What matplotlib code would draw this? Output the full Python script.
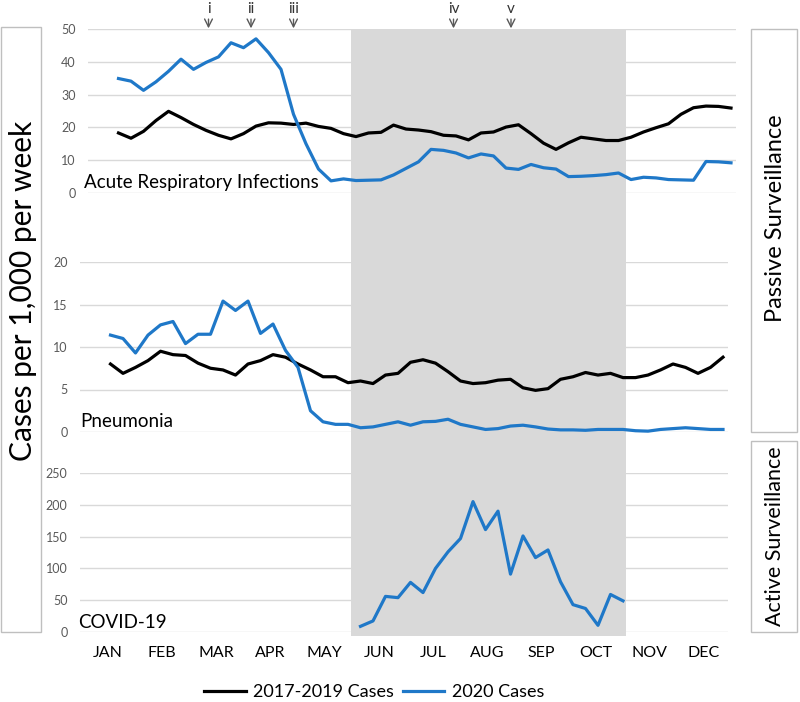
import numpy as np
import matplotlib
matplotlib.use('Agg')
import matplotlib.pyplot as plt
from matplotlib.patches import Rectangle
from matplotlib.lines import Line2D
from matplotlib.transforms import blended_transform_factory

plt.rcParams['font.family'] = ['Lato', 'DejaVu Sans']

# weekly values (week index 0..49)
weeks = np.arange(50)
ari_hist = [18.3, 16.7, 18.8, 22.1, 24.9, 23.0, 20.9, 19.1, 17.6, 16.5,
            18.1, 20.4, 21.4, 21.3, 20.9, 21.3, 20.3, 19.7, 18.1, 17.2,
            18.3, 18.5, 20.7, 19.5, 19.2, 18.7, 17.6, 17.4, 16.2, 18.3,
            18.6, 20.1, 20.8, 18.1, 15.2, 13.3, 15.3, 17.0, 16.5, 16.0,
            16.0, 17.0, 18.6, 19.9, 21.1, 24.0, 26.0, 26.5, 26.4, 25.9]
ari_2020 = [34.9, 34.1, 31.3, 33.9, 37.1, 40.8, 37.7, 39.8, 41.5, 45.8,
            44.3, 47.0, 42.8, 37.7, 24.0, 15.0, 7.3, 3.7, 4.3, 3.8,
            3.9, 4.0, 5.5, 7.5, 9.5, 13.3, 13.0, 12.2, 10.7, 11.9,
            11.3, 7.6, 7.2, 8.7, 7.7, 7.3, 5.0, 5.1, 5.3, 5.6,
            6.1, 4.1, 4.8, 4.6, 4.1, 4.0, 3.9, 9.6, 9.5, 9.2]
pneu_hist = [8.0, 6.9, 7.6, 8.4, 9.5, 9.1, 9.0, 8.1, 7.5, 7.3,
             6.7, 8.0, 8.4, 9.1, 8.8, 8.0, 7.3, 6.5, 6.5, 5.8,
             6.0, 5.7, 6.7, 6.9, 8.2, 8.5, 8.1, 7.1, 6.0, 5.7,
             5.8, 6.1, 6.2, 5.2, 4.9, 5.1, 6.2, 6.5, 7.0, 6.7,
             6.9, 6.4, 6.4, 6.7, 7.3, 8.0, 7.6, 6.9, 7.6, 8.8]
pneu_2020 = [11.4, 11.0, 9.3, 11.4, 12.6, 13.0, 10.4, 11.5, 11.5, 15.4,
             14.3, 15.4, 11.6, 12.7, 9.6, 7.6, 2.5, 1.2, 0.9, 0.9,
             0.5, 0.6, 0.9, 1.2, 0.8, 1.2, 1.25, 1.5, 0.9, 0.6,
             0.3, 0.4, 0.7, 0.8, 0.6, 0.35, 0.25, 0.25, 0.2, 0.3,
             0.3, 0.3, 0.15, 0.1, 0.3, 0.4, 0.5, 0.4, 0.3, 0.3]
covid_weeks = np.arange(20, 42)
covid_2020 = [8.9, 17.4, 56, 54, 78, 62, 100, 126, 147, 205, 161,
              190, 91, 151, 117, 129, 79, 43, 37, 10.5, 59, 49]

months = ['JAN', 'FEB', 'MAR', 'APR', 'MAY', 'JUN',
          'JUL', 'AUG', 'SEP', 'OCT', 'NOV', 'DEC']
events = ['i', 'ii', 'iii', 'iv', 'v']
event_weeks = [7.2, 10.6, 14.0, 26.8, 31.4]
shade_weeks = (19.2, 41.2)

BLUE = '#1f78c8'
GRID = '#d9d9d9'
TICK = '#595959'
EDGE = '#bfbfbf'

W, H = 800, 702


def fx(px):
    return px / W


def fy(py):
    return 1 - py / H


def rect(left, top, right, bottom):
    return [fx(left), fy(bottom), (right - left) / W, (bottom - top) / H]


fig = plt.figure(figsize=(8, 7.02), dpi=100)

ax_ari = fig.add_axes(rect(88, 29, 736, 193))
ax_pn = fig.add_axes(rect(80, 262, 728, 432))
ax_cv = fig.add_axes(rect(80, 473, 728, 632))

panels = [(ax_ari, 50, 10), (ax_pn, 20, 5), (ax_cv, 250, 50)]
for ax, top, step in panels:
    ax.set_facecolor('none')
    for s in ax.spines.values():
        s.set_visible(False)
    ax.set_xlim(-2.44, 49.4)
    ax.set_ylim(0, top)
    ax.set_yticks(np.arange(0, top + 1, step))
    ax.yaxis.grid(True, color=GRID, lw=1)
    ax.set_axisbelow(True)
    ax.tick_params(length=0, labelsize=9, labelcolor=TICK, pad=9)
    ax.set_xticks([])

ax_ari.plot(weeks, ari_hist, color='black', lw=2.3, solid_joinstyle='round', clip_on=False)
ax_ari.plot(weeks, ari_2020, color=BLUE, lw=2.3, solid_joinstyle='round', clip_on=False)
ax_pn.plot(weeks, pneu_hist, color='black', lw=2.3, solid_joinstyle='round', clip_on=False)
ax_pn.plot(weeks, pneu_2020, color=BLUE, lw=2.3, solid_joinstyle='round', clip_on=False)
ax_cv.plot(covid_weeks, covid_2020, color=BLUE, lw=2.3, solid_joinstyle='round', clip_on=False)

month_pos = -0.2 + np.arange(12) * 52 / 12
ax_cv.set_xticks(month_pos)
ax_cv.set_xticklabels(months)
ax_cv.tick_params(axis='x', labelsize=11.5, labelcolor='black', pad=10)

# shaded period behind all three panels
trans = blended_transform_factory(ax_pn.transData, fig.transFigure)
fig.add_artist(Rectangle((shade_weeks[0], fy(636)), shade_weeks[1] - shade_weeks[0],
                         (636 - 29) / H, transform=trans, facecolor=GRID,
                         edgecolor='none', zorder=-1))

# event arrows
for lab, w in zip(events, event_weeks):
    ax_ari.annotate(lab, xy=(w, 1.004), xycoords=('data', 'axes fraction'),
                    xytext=(w, 1.12), textcoords=('data', 'axes fraction'),
                    ha='center', va='center', fontsize=11, color='#333333',
                    arrowprops=dict(arrowstyle='->', color='#595959', lw=1,
                                    mutation_scale=14, shrinkA=0, shrinkB=0))

# panel titles
fig.text(fx(84), fy(188), 'Acute Respiratory Infections', fontsize=13.5, va='baseline')
fig.text(fx(80), fy(427), 'Pneumonia', fontsize=13.5, va='baseline')
fig.text(fx(78), fy(628), 'COVID-19', fontsize=13.5, va='baseline')

# side boxes
for l, t, r, b in [(1, 27, 41, 632), (751, 29, 797, 432), (751, 441, 797, 632)]:
    fig.add_artist(Rectangle((fx(l), fy(b)), (r - l) / W, (b - t) / H,
                             transform=fig.transFigure, facecolor='none',
                             edgecolor=EDGE, lw=1))
fig.text(fx(23), fy(291), 'Cases per 1,000 per week', rotation=90,
         ha='center', va='center', fontsize=21.5)
fig.text(fx(775), fy(218), 'Passive Surveillance', rotation=90,
         ha='center', va='center', fontsize=17)
fig.text(fx(775), fy(536), 'Active Surveillance', rotation=90,
         ha='center', va='center', fontsize=15.5)

handles = [Line2D([], [], color='black', lw=2.3), Line2D([], [], color=BLUE, lw=2.3)]
fig.legend(handles, ['2017-2019 Cases', '2020 Cases'], loc='center',
           bbox_to_anchor=(fx(374), fy(692)), ncol=2, frameon=False,
           fontsize=13, handlelength=2.3, handletextpad=0.4, columnspacing=0.5)

fig.savefig('out.png', dpi=100)
